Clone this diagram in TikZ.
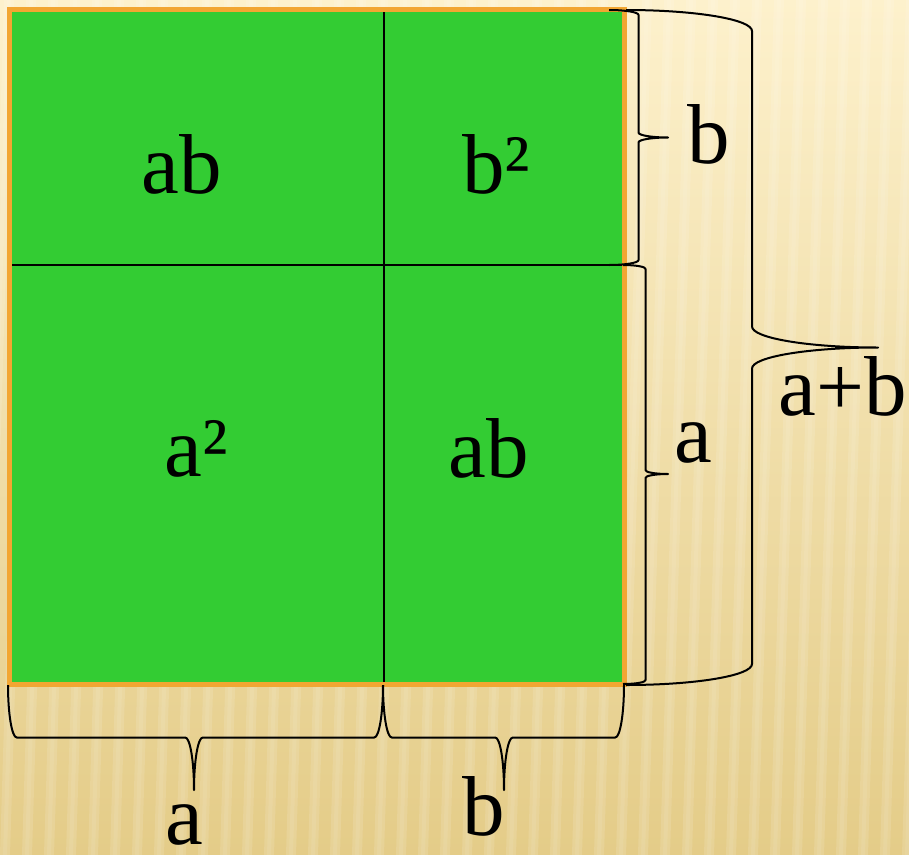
\documentclass[tikz,border=0pt]{standalone}
\usepackage{fontspec}
\setmainfont{Liberation Serif}
\definecolor{sqgreen}{RGB}{51,204,51}
\definecolor{sqorange}{RGB}{242,166,50}
\definecolor{bgtop}{RGB}{253,241,204}
\definecolor{bgbot}{RGB}{228,204,136}
\begin{document}
\begin{tikzpicture}[x=1bp,y=-1bp,
  lbl/.style={inner sep=0pt, anchor=base, font=\fontsize{85bp}{100bp}\selectfont},
  divline/.style={line width=2.4bp, black},
  bracepath/.style={line width=2bp, black, line join=round}]
\useasboundingbox (0,0) rectangle (909,855);
% background
\shade[top color=bgtop, bottom color=bgbot] (0,0) rectangle (909,855);
\foreach \i in {-2,...,44} {
  \fill[white, opacity=0.12] (\i*22,855) -- ++(10,0) -- ++(26,-855) -- ++(-10,0) -- cycle;
  \fill[white, opacity=0.08] (\i*22+3,855) -- ++(4,0) -- ++(26,-855) -- ++(-4,0) -- cycle;
}
% square
\fill[sqgreen] (9.5,9.5) rectangle (624,684.5);
\draw[divline] (384,9.5) -- (384,684.5);
\draw[divline] (9.5,265) -- (624,265);
\draw[sqorange, line width=5bp] (9.5,9.5) rectangle (624,684.5);
% right brace b
\draw[bracepath] (609,10) arc[start angle=-90, end angle=0, x radius=29.5, y radius=4.9]
  -- (638.5,132.6) arc[start angle=180, end angle=90, x radius=29.5, y radius=4.9]
  arc[start angle=270, end angle=180, x radius=29.5, y radius=4.9]
  -- (638.5,260.1) arc[start angle=0, end angle=90, x radius=29.5, y radius=4.9];
% right brace a
\draw[bracepath] (623,265) arc[start angle=-90, end angle=0, x radius=22.5, y radius=3.8]
  -- (645.5,470.2) arc[start angle=180, end angle=90, x radius=22.5, y radius=3.8]
  arc[start angle=270, end angle=180, x radius=22.5, y radius=3.8]
  -- (645.5,680.2) arc[start angle=0, end angle=90, x radius=22.5, y radius=3.8];
% right brace a+b
\draw[bracepath] (626,10) arc[start angle=-90, end angle=0, x radius=126, y radius=21]
  -- (752,326.5) arc[start angle=180, end angle=90, x radius=126, y radius=21]
  arc[start angle=270, end angle=180, x radius=126, y radius=21]
  -- (752,664) arc[start angle=0, end angle=90, x radius=126, y radius=21];
% bottom brace a
\draw[bracepath] (8,685) arc[start angle=180, end angle=90, x radius=8.75, y radius=52.5]
  -- (185.25,737.5) arc[start angle=-90, end angle=0, x radius=8.75, y radius=52.5]
  arc[start angle=180, end angle=270, x radius=8.75, y radius=52.5]
  -- (374.25,737.5) arc[start angle=90, end angle=0, x radius=8.75, y radius=52.5];
% bottom brace b
\draw[bracepath] (383,685) arc[start angle=180, end angle=90, x radius=8.75, y radius=52.5]
  -- (495.25,737.5) arc[start angle=-90, end angle=0, x radius=8.75, y radius=52.5]
  arc[start angle=180, end angle=270, x radius=8.75, y radius=52.5]
  -- (615.25,737.5) arc[start angle=90, end angle=0, x radius=8.75, y radius=52.5];
% labels
\node[lbl] (abTop) at (182,193) {ab};
\node[lbl] (bsq) at (496,193) {b²};
\node[lbl] (asq) at (196,476) {a²};
\node[lbl] (abBot) at (489,477) {ab};
\node[lbl] (rb) at (709,163) {b};
\node[lbl] (ra) at (693,462) {a};
\node[lbl] (rab) at (843,415) {a+b};
\node[lbl] (ba) at (184,844) {a};
\node[lbl] (bb) at (484,835) {b};
\end{tikzpicture}
\end{document}
